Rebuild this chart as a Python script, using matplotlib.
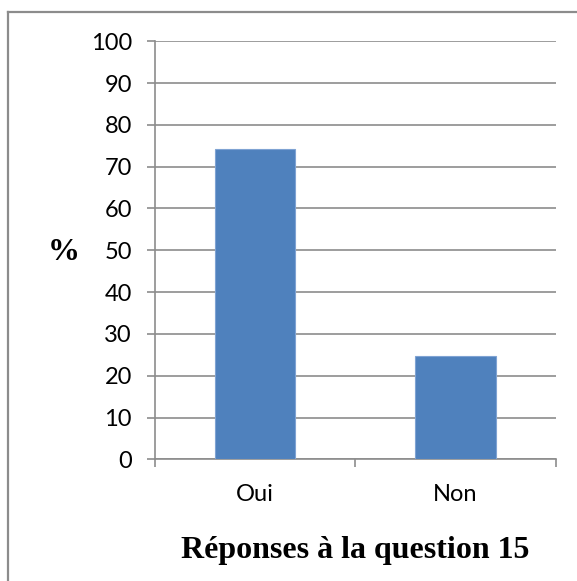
import matplotlib
matplotlib.use('Agg')
import matplotlib.pyplot as plt
from matplotlib.lines import Line2D

# chart data
categories = ['Oui', 'Non']
values = [74.3, 24.7]
y_ticks = list(range(0, 101, 10))

W, H = 577, 581
fig = plt.figure(figsize=(W/100, H/100), dpi=100)

# axes placed in pixel terms of the reference
left, right, top, bottom = 154.7, 555.7, 41.3, 459.3
ax = fig.add_axes([left/W, 1-bottom/H, (right-left)/W, (bottom-top)/H])

x = list(range(len(categories)))
ax.bar(x, values, width=0.4, color='#4F81BD', edgecolor='#7FA3D3', linewidth=0.8, zorder=3)

ax.set_xlim(-0.5, len(categories)-0.5)
ax.set_ylim(0, 100)
ax.set_yticks(y_ticks)
ax.yaxis.grid(True, color='#8C8C8C', linewidth=1.2, zorder=0)
ax.set_axisbelow(True)

ax.set_xticks(x)
ax.set_xticklabels(categories)
ax.set_xticks([i - 0.5 for i in range(len(categories)+1)], minor=True)

for s in ['top', 'right']:
    ax.spines[s].set_visible(False)
for s in ['left', 'bottom']:
    ax.spines[s].set_color('#8C8C8C')
    ax.spines[s].set_linewidth(1.2)

ax.tick_params(axis='y', which='major', direction='out', length=5.5, width=1.2,
               color='#8C8C8C', pad=11, labelsize=17)
ax.tick_params(axis='x', which='major', length=0, pad=18, labelsize=17)
ax.tick_params(axis='x', which='minor', direction='out', length=5.5, width=1.2, color='#8C8C8C')
for lab in ax.get_xticklabels() + ax.get_yticklabels():
    lab.set_fontfamily('Lato')

# axis titles
fig.text(64/W, 1-252/H, '%', family='Liberation Serif', weight='bold', size=23,
         ha='center', va='center')
fig.text(355/W, 1-558/H, 'Réponses à la question 15', family='Liberation Serif',
         weight='bold', size=23, ha='center', va='baseline')

# outer chart border (left and top edges visible)
fig.add_artist(Line2D([8/W, 8/W], [0, 1-12/H], transform=fig.transFigure,
                      color='#8C8C8C', linewidth=1.6))
fig.add_artist(Line2D([8/W, 1], [1-12/H, 1-12/H], transform=fig.transFigure,
                      color='#8C8C8C', linewidth=1.6))

fig.savefig('out.png', dpi=100)
